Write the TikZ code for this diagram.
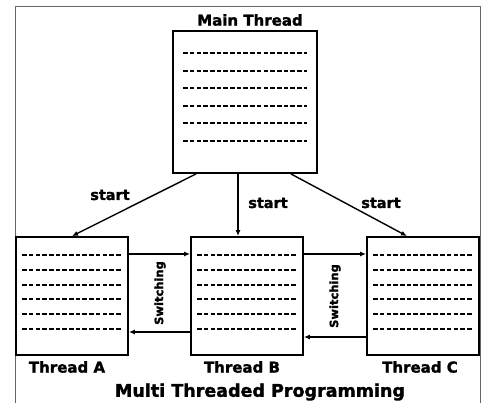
\documentclass[tikz,border=0pt]{standalone}
\usepackage{fontspec}
\setmainfont{DejaVu Sans}
\newfontfamily\heavyfont{DejaVu Sans Bold}[FakeBold=1.6]
\usepackage{tikz}
\usetikzlibrary{arrows.meta}

\tikzset{
    threadbox/.style={draw, line width=1.8pt, minimum width=112pt, minimum height=118pt, inner sep=0pt},
    codeline/.style={line width=1.8pt, dash pattern=on 4.6pt off 2.1pt},
    flow/.style={line width=1.4pt, -{Latex[length=6pt,width=5pt]}},
    lbl/.style={font=\heavyfont\fontsize{14.5}{16}\selectfont},
    biglbl/.style={font=\heavyfont\fontsize{15}{17}\selectfont},
    switchlbl/.style={rotate=90, font=\heavyfont\fontsize{11.5}{13}\selectfont},
}

\begin{document}
\begin{tikzpicture}[x=1pt, y=-1pt]
        \useasboundingbox (0,0) rectangle (482,403);

        % Rahmen
        \draw[gray!80!black, line width=1pt] (15,403) -- (15,7) -- (480,7) -- (480,403);

        % Threads
        \node[threadbox, minimum width=144pt, minimum height=142pt] (main) at (245,102) {};
        \node[threadbox] (a) at (72,296) {};
        \node[threadbox] (b) at (247,296) {};
        \node[threadbox] (c) at (423,296) {};

        % Codezeilen
        \foreach \i in {0,...,5} {
            \pgfmathsetmacro{\dy}{round(23+\i*17.6)}
            \draw[codeline] ([xshift=11pt, yshift=-\dy pt]main.north west)
                -- ([xshift=-11pt, yshift=-\dy pt]main.north east);
        }
        \foreach \t in {a,b,c}
            \foreach \i in {0,...,5} {
                \pgfmathsetmacro{\dy}{round(19+\i*14.8)}
                \draw[codeline] ([xshift=7pt, yshift=-\dy pt]\t.north west)
                    -- ([xshift=-8pt, yshift=-\dy pt]\t.north east);
            }

        % start-Pfeile
        \draw[flow] ([xshift=24pt]main.south west) -- (a.north);
        \draw[flow] ([xshift=-7pt]main.south) -- ([xshift=-9pt]b.north);
        \draw[flow] ([xshift=-27pt]main.south east) -- ([xshift=-16pt]c.north);

        \node[lbl] (startA) at (110,195) {start};
        \node[lbl] (startB) at (268,203) {start};
        \node[lbl] (startC) at (381,203) {start};

        % Umschalten zwischen den Threads
        \draw[flow] ([yshift=42pt]a.east) -- ([yshift=42pt]b.west);
        \draw[flow] ([yshift=-36pt]b.west) -- ([yshift=-36pt]a.east);
        \draw[flow] ([yshift=42pt]b.east) -- ([yshift=42pt]c.west);
        \draw[flow] ([yshift=-41pt]c.west) -- ([yshift=-41pt]b.east);

        \node[switchlbl] (switchAB) at (160,293) {Switching};
        \node[switchlbl] (switchBC) at (335,296) {Switching};

        % Beschriftungen
        \node[biglbl] (mainlbl) at (250,20) {Main Thread};
        \node[biglbl] (albl) at (67,367) {Thread A};
        \node[biglbl] (blbl) at (242,367) {Thread B};
        \node[biglbl] (clbl) at (420,367) {Thread C};
        \node[lbl, font=\heavyfont\fontsize{17.5}{20}\selectfont] (title) at (260,392) {Multi Threaded Programming};
\end{tikzpicture}
\end{document}
